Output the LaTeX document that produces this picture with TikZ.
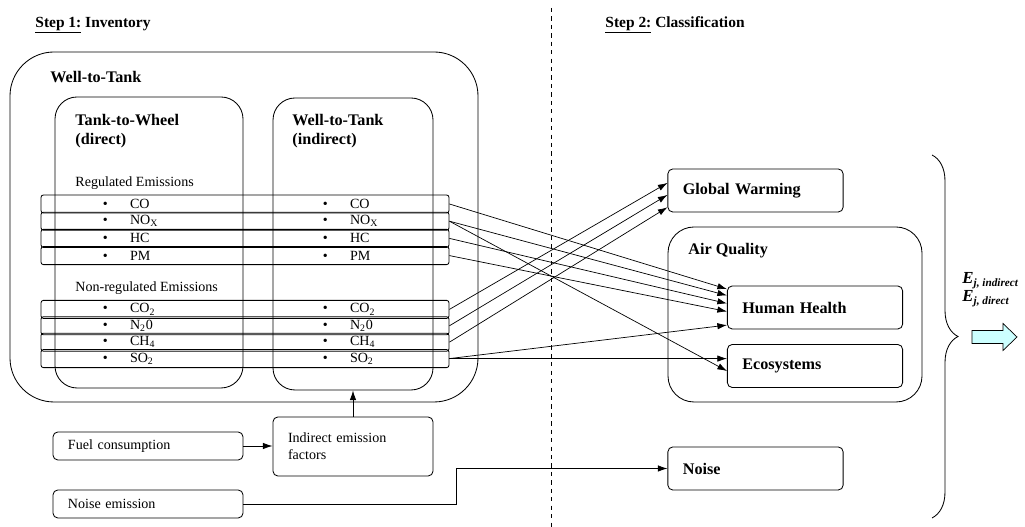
\documentclass[tikz,border=0pt]{standalone}
\usepackage{fontspec}
\setmainfont{Liberation Serif}
\usetikzlibrary{arrows.meta,decorations.pathreplacing}
\definecolor{arrowcyan}{RGB}{204,255,255}

\begin{document}
\begin{tikzpicture}[>={Latex[length=2.4mm,width=1.6mm]}, line width=0.6pt,
        head/.style={anchor=west, inner sep=0pt, font=\fontsize{11}{13}\selectfont\bfseries},
        lbl/.style={anchor=west, inner sep=0pt, align=left, font=\fontsize{11.5}{13}\selectfont\bfseries},
        txt/.style={anchor=west, inner sep=0pt, font=\fontsize{10}{12}\selectfont},
        row/.style={rectangle, draw, rounded corners=0.06cm, minimum width=10.2cm, minimum height=0.45cm, inner sep=0pt},
        impact/.style={rectangle, draw, rounded corners=0.12cm, minimum height=1.075cm, text width=3.63cm, inner xsep=0.375cm, align=left, font=\fontsize{11.5}{13}\selectfont\bfseries},
        input/.style={rectangle, draw, rounded corners=0.12cm, inner xsep=0.375cm, align=left, font=\fontsize{10}{12}\selectfont}]
    \useasboundingbox (0,0) rectangle (25.625,13.175);

    % headings and the dashed split
    \node (h1) [head] at (0.875,12.55) {\underline{Step 1:} Inventory};
    \node (h2) [head] at (15.125,12.55) {\underline{Step 2:} Classification};
    \coordinate (dtop) at (13.775,12.975);
    \coordinate (dbot) at (13.775,0);
    \draw [dashed] (dtop) -- (dbot);

    \begin{scope}[every node/.style={rectangle,draw,inner sep=0pt}]
        \node (wtt) [rounded corners=1.1cm, minimum width=11.7cm, minimum height=8.75cm] at (6.1,7.5) {};
        \node (ttw) [rounded corners=0.55cm, minimum width=4.7cm, minimum height=7.275cm] at (3.725,7.1125) {};
        \node (wtti) [rounded corners=0.55cm, minimum width=4cm, minimum height=7.3cm] at (8.825,7.075) {};
        \node (aq) [rounded corners=0.65cm, minimum width=6.35cm, minimum height=4.375cm] at (19.875,5.3125) {};
    \end{scope}

    \node (lwtt) [lbl] at (1.25,11.25) {Well-to-Tank};
    \node (lttw) [lbl] at (1.875,9.9) {Tank-to-Wheel\\(direct)};
    \node (lwtti) [lbl] at (7.3,9.9) {Well-to-Tank\\(indirect)};
    \node (lreg) [txt] at (1.875,8.6) {Regulated Emissions};
    \node (lnon) [txt] at (1.875,5.975) {Non-regulated Emissions};
    \node (laq) [lbl] at (17.2,6.9) {Air Quality};

    % emission rows
    \node (rCO) [row] at (6.125,8.075) {};
    \node (rNOx) [row] at (6.125,7.645) {};
    \node (rHC) [row] at (6.125,7.215) {};
    \node (rPM) [row] at (6.125,6.785) {};
    \node (rCOt) [row] at (6.125,5.44) {};
    \node (rNtO) [row] at (6.125,5.03) {};
    \node (rCH) [row] at (6.125,4.62) {};
    \node (rSO) [row] at (6.125,4.21) {};

    \node (tCO) [txt] at (2.56,8.075) {\makebox[0.68cm][l]{\textbullet}CO};
    \node (tNOx) [txt] at (2.56,7.645) {\makebox[0.68cm][l]{\textbullet}NO\textsubscript{X}};
    \node (tHC) [txt] at (2.56,7.215) {\makebox[0.68cm][l]{\textbullet}HC};
    \node (tPM) [txt] at (2.56,6.785) {\makebox[0.68cm][l]{\textbullet}PM};
    \node (tCOt) [txt] at (2.56,5.44) {\makebox[0.68cm][l]{\textbullet}CO\textsubscript{2}};
    \node (tNtO) [txt] at (2.56,5.03) {\makebox[0.68cm][l]{\textbullet}N\textsubscript{2}0};
    \node (tCH) [txt] at (2.56,4.62) {\makebox[0.68cm][l]{\textbullet}CH\textsubscript{4}};
    \node (tSO) [txt] at (2.56,4.21) {\makebox[0.68cm][l]{\textbullet}SO\textsubscript{2}};
    \node (iCO) [txt] at (8.06,8.075) {\makebox[0.68cm][l]{\textbullet}CO};
    \node (iNOx) [txt] at (8.06,7.645) {\makebox[0.68cm][l]{\textbullet}NO\textsubscript{X}};
    \node (iHC) [txt] at (8.06,7.215) {\makebox[0.68cm][l]{\textbullet}HC};
    \node (iPM) [txt] at (8.06,6.785) {\makebox[0.68cm][l]{\textbullet}PM};
    \node (iCOt) [txt] at (8.06,5.44) {\makebox[0.68cm][l]{\textbullet}CO\textsubscript{2}};
    \node (iNtO) [txt] at (8.06,5.03) {\makebox[0.68cm][l]{\textbullet}N\textsubscript{2}0};
    \node (iCH) [txt] at (8.06,4.62) {\makebox[0.68cm][l]{\textbullet}CH\textsubscript{4}};
    \node (iSO) [txt] at (8.06,4.21) {\makebox[0.68cm][l]{\textbullet}SO\textsubscript{2}};

    % impact categories
    \node (gw) [impact] at (18.8875,8.4125) {Global Warming};
    \node (hh) [impact] at (20.375,5.4875) {Human Health};
    \node (eco) [impact] at (20.375,4.025) {Ecosystems};
    \node (noise) [impact] at (18.8875,1.4625) {Noise};

    % inputs
    \node (fuel) [input, text width=4cm, minimum height=0.7cm] at (3.7,2.025) {Fuel consumption};
    \node (ief) [input, text width=3.25cm, minimum height=1.475cm] at (8.825,2.0125) {Indirect emission\\factors};
    \node (nemi) [input, text width=4cm, minimum height=0.7cm] at (3.7,0.575) {Noise emission};

    \draw [->] (fuel.east) -- (ief.west |- fuel.east);
    \draw [->] (ief.north) -- (wtti.south);
    \draw [->, line width=0.5pt] (nemi.east) -- ++(5.325,0) |- (noise.west);

    \begin{scope}[every edge/.style={draw=black, line width=0.5pt}]
        \path [->] (rCO.east) edge ([yshift=0.46cm]hh.west);
        \path [->] (rNOx.east) edge ([yshift=0.3cm]hh.west);
        \path [->] (rNOx.east) edge ([yshift=-0.125cm]eco.west);
        \path [->] (rHC.east) edge ([yshift=0.1cm]hh.west);
        \path [->] (rPM.east) edge ([yshift=-0.1cm]hh.west);
        \path [->] (rCOt.east) edge ([yshift=0.19cm]gw.west);
        \path [->] (rNtO.east) edge ([yshift=-0.11cm]gw.west);
        \path [->] (rCH.east) edge ([yshift=-0.42cm]gw.west);
        \path [->] (rSO.east) edge ([yshift=-0.44cm]hh.west);
        \path [->] (rSO.east) edge (rSO.east -| eco.west);
    \end{scope}

    % brace and result
    \draw [decorate, decoration={brace, amplitude=0.65cm}] (23.3,9.3) -- (23.3,0.225);
    \node (elab) [anchor=west, inner sep=0pt, align=left, font=\fontsize{12}{12.8}\selectfont\bfseries\itshape] at (24.05,5.93) {E\textsubscript{j, indirect}\\E\textsubscript{j, direct}};
    \draw [fill=arrowcyan, line width=0.5pt] (24.3,4.5875) -- (25.075,4.5875) -- (25.075,4.4125) -- (25.425,4.75) -- (25.075,5.0875) -- (25.075,4.9125) -- (24.3,4.9125) -- cycle;
\end{tikzpicture}
\end{document}
